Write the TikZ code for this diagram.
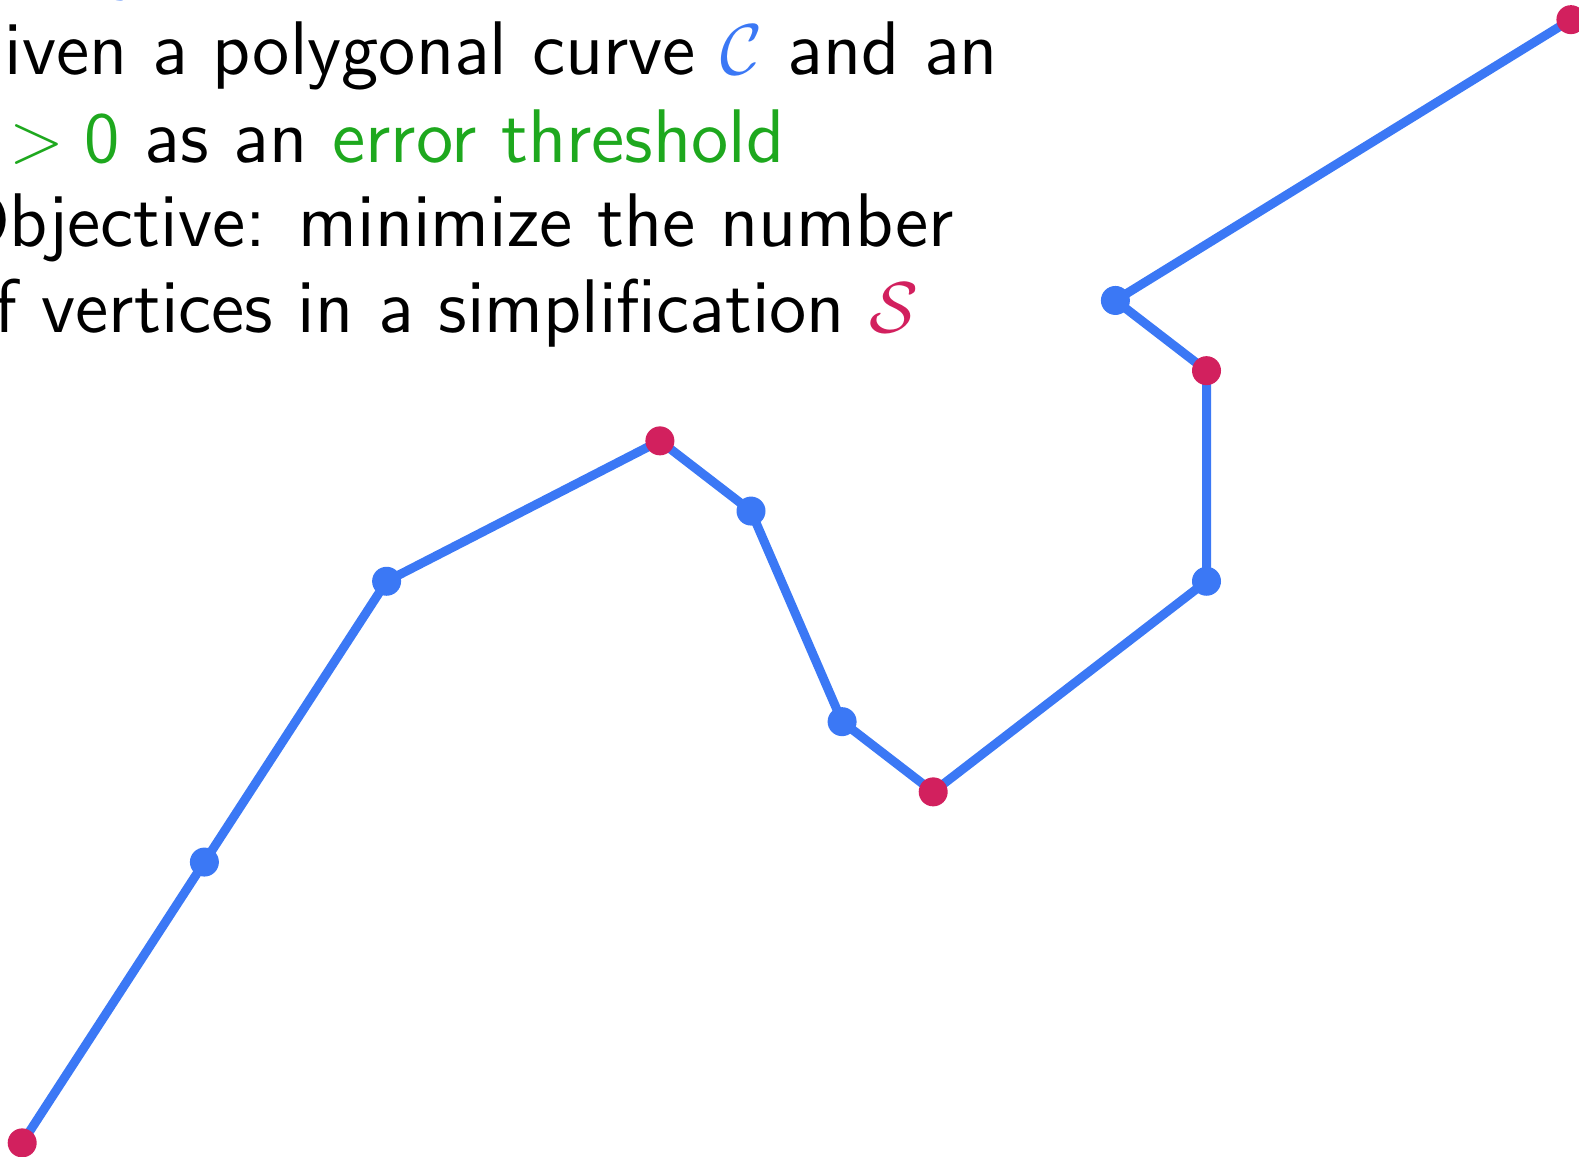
\documentclass[tikz,border=0pt]{standalone}
\usepackage{amsmath}
\definecolor{curveblue}{RGB}{59,120,245}
\definecolor{simpred}{RGB}{210,32,94}
\definecolor{errgreen}{RGB}{30,168,30}
\tikzset{
  slide/.style={anchor=base west, inner sep=0pt, font=\sffamily\fontsize{15.2pt}{17.2pt}\selectfont},
  curveline/.style={draw=curveblue, line width=1.8pt, line join=round},
  cvertex/.style={circle, fill=curveblue, minimum size=5.8pt, inner sep=0pt},
  svertex/.style={circle, fill=simpred, minimum size=5.8pt, inner sep=0pt}
}
\begin{document}
\begin{tikzpicture}[x=0.2pt,y=0.2pt]
\useasboundingbox (0,0) rectangle (1579,1157);
\clip (0,0) rectangle (1579,1157);
% problem statement
\node[slide, text=curveblue] (head) at (-44,1171) {Today: simplification problem};
\node[slide] (l1) at (-46,1082) {Given a polygonal curve \textcolor{curveblue}{$\mathcal{C}$} and an};
\node[slide] (l2) at (-44,994) {\textcolor{errgreen}{$\varepsilon > \mathsf{0}$} as an \textcolor{errgreen}{error threshold}};
\node[slide] (l3) at (-46,910) {Objective: minimize the number};
\node[slide] (l4) at (-44,824) {of vertices in a simplification \textcolor{simpred}{$\mathcal{S}$}};
% curve on a grid
\begin{scope}[shift={(4.44pt,2.82pt)}, x=18.22pt, y=14.04pt]
\coordinate (p1) at (0,0);
\coordinate (p2) at (2,4);
\coordinate (p3) at (4,8);
\coordinate (p4) at (7,10);
\coordinate (p5) at (8,9);
\coordinate (p6) at (9,6);
\coordinate (p7) at (10,5);
\coordinate (p8) at (13,8);
\coordinate (p9) at (13,11);
\coordinate (p10) at (12,12);
\coordinate (p11) at (17,16);
\draw[curveline] (p1) -- (p2) -- (p3) -- (p4) -- (p5) -- (p6) -- (p7) -- (p8) -- (p9) -- (p10) -- (p11);
\foreach \i in {2,3,5,6,8,10}
  \node[cvertex] (c\i) at (p\i) {};
\foreach \i in {1,4,7,9,11}
  \node[svertex] (s\i) at (p\i) {};
\end{scope}
\end{tikzpicture}
\end{document}
